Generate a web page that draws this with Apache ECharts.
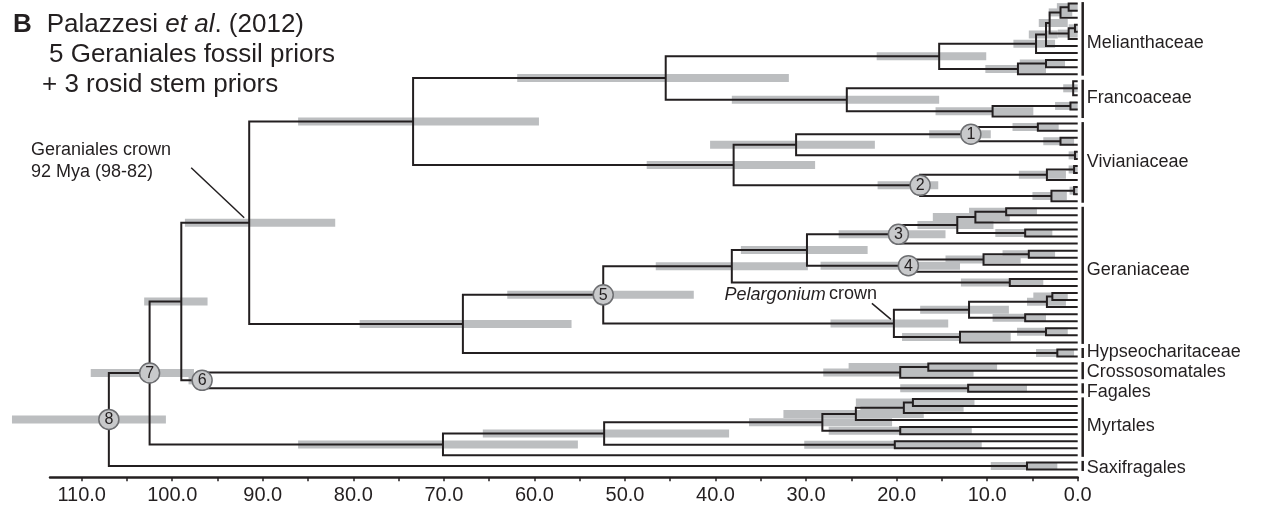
<!DOCTYPE html>
<html><head><meta charset="utf-8">
<script src="https://cdn.jsdelivr.net/npm/echarts@6/dist/echarts.min.js"></script>
<style>html,body{margin:0;padding:0;background:#fff}#c{width:1262px;height:511px}</style>
</head><body><div id="c"></div>
<script>
// ---- DATA ----
// Tips are numbered 0..66 from top to bottom; every tip sits at age 0 (present).
const tipCount = 67;
// Each clade = contiguous tip range [first,last]; crown age (Mya) and 95% HPD (old, young)
const cladeFirst = [0,0,3,3,0,0,0,8,8,0, 11,14,14,11,0, 17,19,17,21,17,23,23,26,26,23,17,0,
  29,29,32,29,29,35,35,35,29,39,29,41,41,44,41,46,46,41,29,49,29,0,
  51,51,54,51,0,56,56,56,60,56,62,56,56,0,65,0];
const cladeLast  = [1,2,4,5,5,6,7,9,10,10, 13,15,16,16,16, 18,20,20,22,22,24,25,27,28,28,28,28,
  30,31,33,33,34,36,37,38,38,40,40,42,43,45,45,47,48,48,48,50,50,50,
  52,53,55,55,55,57,58,59,61,61,63,63,64,64,66,66];
const cladeAge   = [1.0,1.9,0.3,1.0,3.1,3.5,4.6,3.5,6.6,15.3, 0.5,0.8,9.4,25.5,45.5,
  4.4,1.9,11.8,0.3,31.1,0.4,3.4,0.4,2.9,17.4,38.0,73.4,
  7.9,11.3,5.8,13.3,19.8,5.4,10.4,18.7,29.9,7.5,38.2,2.8,3.4,5.8,12.0,3.5,13.0,20.3,52.4,2.25,67.9,91.5,
  16.5,19.6,12.1,96.7,99.0,18.2,19.2,24.5,19.6,28.2,20.2,52.3,70.1,102.5,5.6,107.0];
const hpdOld     = [2.3,3.2,1.0,2.2,4.3,5.4,7.1,6.4,10.2,22.2, 1.6,2.5,15.7,38.2,61.9,
  7.2,3.8,16.4,1.0,40.6,1.0,6.5,0.9,5.0,22.1,47.6,86.1,
  12.0,16.0,9.1,17.7,26.4,8.3,14.6,28.4,37.2,12.9,46.6,4.9,5.6,9.4,17.4,6.7,19.4,27.3,63.0,4.6,79.3,98.6,
  25.3,28.1,19.6,98.2,103.1,24.5,24.0,32.5,27.5,36.3,30.2,65.7,86.1,109.0,9.6,117.7];
const hpdYoung   = [0.0,0.6,0.0,0.0,1.1,2.2,2.5,1.4,3.5,10.1, 0.0,0.0,4.9,15.3,31.9,
  2.1,0.4,9.6,0.0,22.4,0.0,1.3,0.0,1.2,15.4,29.0,59.5,
  4.5,7.5,2.8,9.3,14.6,2.5,6.3,13.0,23.2,3.8,29.8,1.1,1.3,3.5,7.6,1.1,7.4,14.3,42.4,0.4,55.9,82.0,
  8.9,11.5,5.6,96.0,96.1,11.4,12.6,17.0,11.7,20.5,10.6,38.5,55.2,97.6,2.25,100.7];
// calibrated / numbered nodes
const markerFirst  = [17,23,29,35,29,51,0,0];
const markerLast   = [20,28,34,38,48,55,64,66];
const markerLabels = ['1','2','3','4','5','6','7','8'];
// clade groups at right
const groupNames = ['Melianthaceae','Francoaceae','Vivianiaceae','Geraniaceae','Hypseocharitaceae','Crossosomatales','Fagales','Myrtales','Saxifragales'];
const groupFirst = [0,11,17,29,49,51,54,56,65];
const groupLast  = [10,16,28,48,50,53,55,64,66];
const groupLabelRow = [5.6,13.4,22.4,37.7,49.3,52.2,55.0,59.9,65.8];
// axis
const tickValues  = [0,5,10,15,20,25,30,35,40,45,50,55,60,65,70,75,80,85,90,95,100,105,110];
const labelValues = [0,10,20,30,40,50,60,70,80,90,100,110];
// annotations: clade they point to
const annoClades = [[0,50],[41,48]];

// ---- BUILD TREE ----
const nodes = cladeFirst.map((f,i)=>({f:f,l:cladeLast[i],age:cladeAge[i],old:hpdOld[i],young:hpdYoung[i],kids:[]}));
const bySize = nodes.slice().sort((a,b)=>(a.l-a.f)-(b.l-b.f));
bySize.forEach(n=>{
  let p=null;
  for(const m of bySize){ if(m!==n && m.f<=n.f && m.l>=n.l && (m.l-m.f)>(n.l-n.f)){p=m;break;} }
  n.parent=p; if(p) p.kids.push(n);
});
bySize.forEach(n=>{
  const ch=n.kids.slice();
  for(let t=n.f;t<=n.l;t++){ if(!n.kids.some(k=>t>=k.f&&t<=k.l)) ch.push({f:t,l:t,age:0,y:t}); }
  ch.sort((a,b)=>a.f-b.f);
  n.children=ch;
  n.y=(ch[0].y+ch[ch.length-1].y)/2;
});
function findNode(f,l){ return nodes.find(n=>n.f===f&&n.l===l); }

const INK='#231f20', BAR='#bcbec0';
const FONT='"Liberation Sans", Arial, Helvetica, sans-serif';

const chart = echarts.init(document.getElementById('c'), null, {renderer:'canvas'});
const option = {
  animation:false,
  grid:{left:50,right:184.3,top:0,bottom:33.7,containLabel:false},
  xAxis:{type:'value',position:'bottom',inverse:true,min:0,max:113.5,interval:10,
    axisLine:{show:true,onZero:false,lineStyle:{color:INK,width:2.5}},
    axisTick:{show:true,length:4,customValues:tickValues,lineStyle:{color:INK,width:1.5}},
    minorTick:{show:false},
    axisLabel:{customValues:labelValues,fontSize:20,color:INK,fontFamily:FONT,margin:8,
      formatter:v=>(Math.abs(v%10)<1e-6?v.toFixed(1):'')},
    splitLine:{show:false}},
  yAxis:{type:'value',inverse:true,min:-0.51,max:67.11,show:false},
  series:[
    { // HPD bars
      type:'custom',z:1,clip:false,
      data:nodes.map(n=>[n.old,n.young,n.y]),
      renderItem:(p,api)=>{
        const a=api.coord([api.value(0),api.value(2)]), b=api.coord([api.value(1),api.value(2)]);
        return {type:'rect',shape:{x:a[0],y:a[1]-4,width:b[0]-a[0],height:8},style:{fill:BAR}};
      }
    },
    { // branches
      type:'custom',z:2,clip:false,
      data:nodes.map(n=>[n.age,n.y]),
      renderItem:(p,api)=>{
        const n=nodes[p.dataIndex];
        const c0=n.children[0], cL=n.children[n.children.length-1];
        const pts=[[c0.age,c0.y],[n.age,c0.y],[n.age,cL.y],[cL.age,cL.y]].map(q=>api.coord(q));
        const kids=[{type:'polyline',shape:{points:pts},style:{stroke:INK,lineWidth:2,fill:null,lineJoin:'miter'}}];
        n.children.slice(1,-1).forEach(c=>{
          const s=api.coord([n.age,c.y]), e=api.coord([c.age,c.y]);
          kids.push({type:'line',shape:{x1:s[0],y1:s[1],x2:e[0],y2:e[1]},style:{stroke:INK,lineWidth:2}});
        });
        return {type:'group',children:kids};
      }
    },
    { // numbered node markers
      type:'custom',z:4,clip:false,
      data:markerFirst.map((f,i)=>{const n=findNode(f,markerLast[i]);return [n.age,n.y,markerLabels[i]];}),
      renderItem:(p,api)=>{
        const c=api.coord([api.value(0),api.value(1)]);
        return {type:'group',children:[
          {type:'circle',shape:{cx:c[0],cy:c[1],r:10},style:{fill:'#c8c9cb',stroke:'#6d6e71',lineWidth:1.5}},
          {type:'text',x:c[0],y:c[1]+0.5,style:{text:markerLabels[p.dataIndex],fontSize:16,fontFamily:FONT,fill:INK,align:'center',verticalAlign:'middle'}}
        ]};
      }
    },
    { // group brackets and names
      type:'custom',z:2,clip:false,
      data:groupFirst.map((f,i)=>[0,f,groupLast[i],groupLabelRow[i]]),
      renderItem:(p,api)=>{
        const a=api.coord([0,api.value(1)]), b=api.coord([0,api.value(2)]), t=api.coord([0,api.value(3)]);
        const x=a[0]+5;
        return {type:'group',children:[
          {type:'line',shape:{x1:x,y1:a[1]-1.5,x2:x,y2:b[1]+1.5},style:{stroke:INK,lineWidth:2.5}},
          {type:'text',x:x+4,y:t[1],style:{text:groupNames[p.dataIndex],fontSize:18,fontFamily:FONT,fill:INK,align:'left',verticalAlign:'middle'}}
        ]};
      }
    },
    { // annotation pointers
      type:'custom',z:3,clip:false,
      data:annoClades.map(c=>{const n=findNode(c[0],c[1]);return [n.age,n.y];}),
      renderItem:(p,api)=>{
        const c=api.coord([api.value(0),api.value(1)]);
        const off=[[[-58,-55],[-5,-5]],[[-22,-20],[-3,-4]]][p.dataIndex];
        return {type:'line',shape:{x1:c[0]+off[0][0],y1:c[1]+off[0][1],x2:c[0]+off[1][0],y2:c[1]+off[1][1]},style:{stroke:INK,lineWidth:1.5}};
      }
    }
  ],
  graphic:[
    {type:'text',x:13,y:25,style:{text:'{b|B}{n|Palazzesi }{i|et al}{n|. (2012)}',verticalAlign:'middle',
      rich:{b:{fontSize:26,fontWeight:'bold',fontFamily:FONT,fill:INK,padding:[0,15,0,0]},n:{fontSize:26,fontFamily:FONT,fill:INK},i:{fontSize:26,fontStyle:'italic',fontFamily:FONT,fill:INK}}}},
    {type:'text',x:49,y:55,style:{text:'5 Geraniales fossil priors',fontSize:26,fontFamily:FONT,fill:INK,verticalAlign:'middle'}},
    {type:'text',x:42,y:85,style:{text:'+ 3 rosid stem priors',fontSize:26,fontFamily:FONT,fill:INK,verticalAlign:'middle'}},
    {type:'text',x:31,y:150.5,style:{text:'Geraniales crown',fontSize:18,fontFamily:FONT,fill:INK,verticalAlign:'middle'}},
    {type:'text',x:31,y:172.5,style:{text:'92 Mya (98-82)',fontSize:18,fontFamily:FONT,fill:INK,verticalAlign:'middle'}},
    {type:'text',x:877,y:294.5,style:{text:'{i|Pelargonium} {n|crown}',align:'right',verticalAlign:'middle',
      rich:{i:{fontSize:18,fontStyle:'italic',fontFamily:FONT,fill:INK},n:{fontSize:18,fontFamily:FONT,fill:INK}}}}
  ]
};
chart.setOption(option);
</script></body></html>
